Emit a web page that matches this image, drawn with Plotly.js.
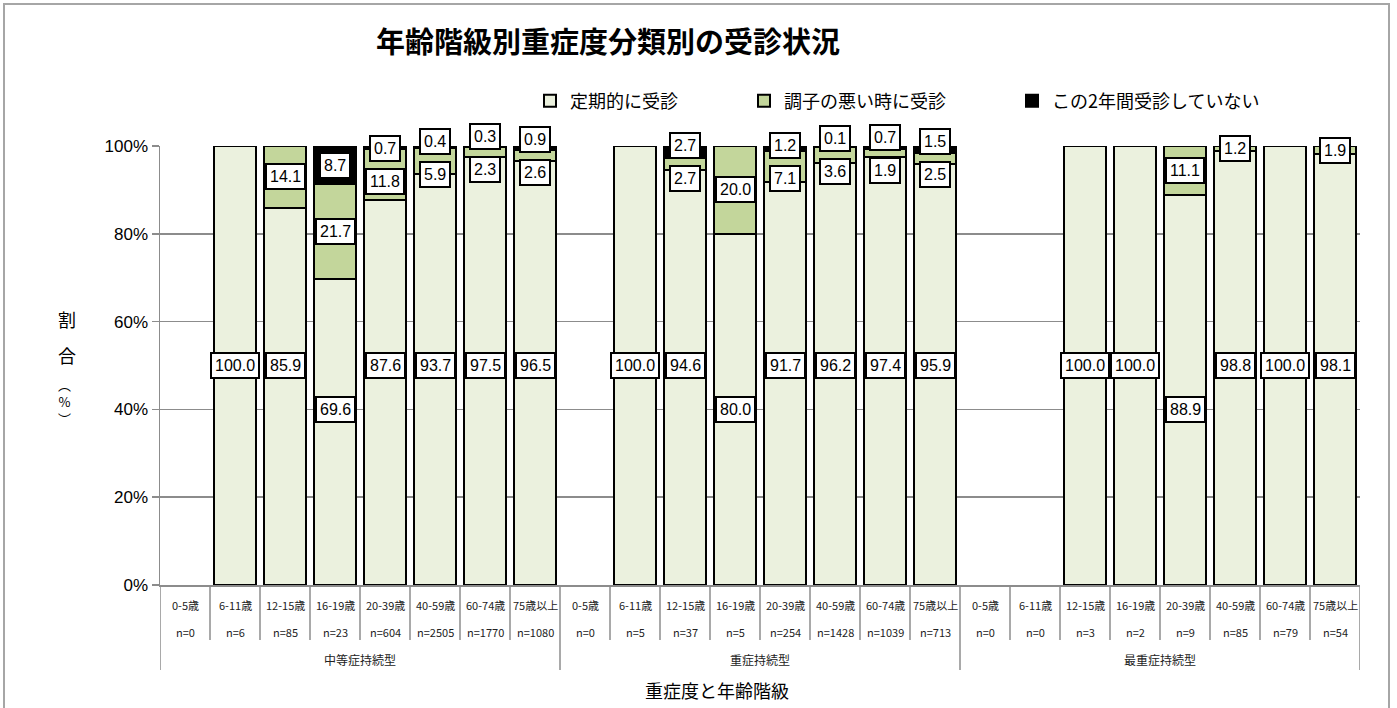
<!DOCTYPE html>
<html>
<head>
<meta charset="utf-8">
<script src="https://cdn.plot.ly/plotly-3.0.1.min.js"></script>
<style>
  html, body { margin: 0; padding: 0; background: #fff; }
  #chart { position: absolute; left: 0; top: 0; width: 1397px; height: 708px; }
  #frame { position: absolute; left: 3px; top: 3px; width: 1383px; height: 720px;
           border: 2px solid #a6a6a6; pointer-events: none; }
</style>
</head>
<body>
<div id="chart"></div>
<div id="frame"></div>
<script>
// ---------------- data ----------------
const GROUPS = ['中等症持続型', '重症持続型', '最重症持続型'];
const AGES = ['0-5歳', '6-11歳', '12-15歳', '16-19歳', '20-39歳', '40-59歳', '60-74歳', '75歳以上'];
const SERIES_NAMES = ['定期的に受診', '調子の悪い時に受診', 'この2年間受診していない'];
const Y_TICK_VALUES = [0, 20, 40, 60, 80, 100];
const Y_TICK_LABELS = ['0%', '20%', '40%', '60%', '80%', '100%'];

const N_MODERATE = [0, 6, 85, 23, 604, 2505, 1770, 1080];
const N_SEVERE   = [0, 5, 37, 5, 254, 1428, 1039, 713];
const N_MOST     = [0, 0, 3, 2, 9, 85, 79, 54];

// 定期的に受診 (%)
const REGULAR_MODERATE = [null, 100.0, 85.9, 69.6, 87.6, 93.7, 97.5, 96.5];
const REGULAR_SEVERE   = [null, 100.0, 94.6, 80.0, 91.7, 96.2, 97.4, 95.9];
const REGULAR_MOST     = [null, null, 100.0, 100.0, 88.9, 98.8, 100.0, 98.1];
// 調子の悪い時に受診 (%)
const WHENBAD_MODERATE = [null, null, 14.1, 21.7, 11.8, 5.9, 2.3, 2.6];
const WHENBAD_SEVERE   = [null, null, 2.7, 20.0, 7.1, 3.6, 1.9, 2.5];
const WHENBAD_MOST     = [null, null, null, null, 11.1, 1.2, null, 1.9];
// この2年間受診していない (%)
const NONE_MODERATE = [null, null, null, 8.7, 0.7, 0.4, 0.3, 0.9];
const NONE_SEVERE   = [null, null, 2.7, null, 1.2, 0.1, 0.7, 1.5];
const NONE_MOST     = [null, null, null, null, null, null, null, null];

// ---------------- label placement (layout setting, % level of the 定期 labels) ----------------
const REGULAR_LABEL_LEVEL = [
  null, 50, 50, 40, 50, 50, 50, 50,
  null, 50, 50, 40, 50, 50, 50, 50,
  null, null, 50, 50, 40, 50, 50, 50
];

// ---------------- build ----------------
const regular = [].concat(REGULAR_MODERATE, REGULAR_SEVERE, REGULAR_MOST);
const whenBad = [].concat(WHENBAD_MODERATE, WHENBAD_SEVERE, WHENBAD_MOST);
const none    = [].concat(NONE_MODERATE, NONE_SEVERE, NONE_MOST);
const nCounts = [].concat(N_MODERATE, N_SEVERE, N_MOST);
const ageLabels = [].concat(AGES, AGES, AGES);
const xIdx = ageLabels.map((_, i) => i);

const COL_REG = '#ebf1de';
const COL_BAD = '#c3d69b';
const COL_NONE = '#000000';
const EDGE = { color: '#000000', width: 2 };
const NUM_FONT = 'Liberation Sans Narrow, Liberation Sans, Arial, sans-serif';
const JP_FONT = 'Noto Sans CJK JP, sans-serif';

function barTrace(vals, name, color, legendId) {
  return {
    type: 'bar', x: xIdx, y: vals, name: name,
    marker: { color: color, line: EDGE },
    legend: legendId, hoverinfo: 'skip', cliponaxis: false
  };
}
const traces = [
  barTrace(regular, SERIES_NAMES[0], COL_REG, 'legend'),
  barTrace(whenBad, SERIES_NAMES[1], COL_BAD, 'legend2'),
  barTrace(none, SERIES_NAMES[2], COL_NONE, 'legend3')
];

const M = { l: 160, r: 37, t: 146, b: 123 };
const W = 1397, H = 708;
const plotH = H - M.t - M.b;
const PX = plotH / 100;

const annotations = [];
function dataLabel(i, yVal, v, shift) {
  annotations.push({
    x: i, y: yVal, xref: 'x', yref: 'y', text: v.toFixed(1), showarrow: false,
    yshift: shift || 0, bgcolor: '#ffffff', bordercolor: '#000000', borderwidth: 2,
    borderpad: 3, font: { family: NUM_FONT, size: 16, color: '#000' }
  });
}
xIdx.forEach(i => {
  const r = regular[i] || 0, b = whenBad[i] || 0, n = none[i] || 0;
  if (regular[i] != null) dataLabel(i, REGULAR_LABEL_LEVEL[i] != null ? REGULAR_LABEL_LEVEL[i] : r / 2, regular[i], 0);
  const bc = r + b / 2, nc = r + b + n / 2;
  if (whenBad[i] != null && none[i] != null && (nc - bc) * PX < 33) {
    const mid = (bc + nc) / 2 * PX - 4;
    dataLabel(i, bc, b, (mid - 16.5) - bc * PX);
    dataLabel(i, nc, n, (mid + 16.5) - nc * PX);
  } else {
    if (whenBad[i] != null) dataLabel(i, bc, b, 0);
    if (none[i] != null) dataLabel(i, nc, n, 0);
  }
});

// category labels under the axis
xIdx.forEach(i => {
  annotations.push({ x: i, y: 0, xref: 'x', yref: 'paper', yanchor: 'middle', yshift: -20,
    text: ageLabels[i], showarrow: false, font: { family: JP_FONT, size: 11, color: '#222' } });
  annotations.push({ x: i, y: 0, xref: 'x', yref: 'paper', yanchor: 'middle', yshift: -47,
    text: 'n=' + nCounts[i], showarrow: false, font: { family: JP_FONT, size: 11, color: '#222' } });
});
GROUPS.forEach((g, gi) => {
  annotations.push({ x: gi * AGES.length + (AGES.length - 1) / 2, y: 0, xref: 'x', yref: 'paper',
    yanchor: 'middle', yshift: -74, text: g, showarrow: false,
    font: { family: JP_FONT, size: 12, color: '#222' } });
});
// x axis title
annotations.push({ x: (717 - M.l) / (W - M.l - M.r), y: 0, xref: 'paper', yref: 'paper', yanchor: 'middle',
  yshift: -105, text: '重症度と年齢階級', showarrow: false, font: { family: JP_FONT, size: 18, color: '#000' } });
// y axis title (vertical writing)
const yTitleX = (57 - M.l) / (W - M.l - M.r);
annotations.push({ x: yTitleX, y: (H - M.b - 319) / plotH, xref: 'paper', yref: 'paper', yanchor: 'middle',
  text: '割', showarrow: false, borderpad: 0, font: { family: JP_FONT, size: 18, color: '#000' } });
annotations.push({ x: yTitleX, y: (H - M.b - 355) / plotH, xref: 'paper', yref: 'paper', yanchor: 'middle',
  text: '合', showarrow: false, borderpad: 0, font: { family: JP_FONT, size: 18, color: '#000' } });
annotations.push({ x: yTitleX, y: (H - M.b - 401) / plotH, xref: 'paper', yref: 'paper', yanchor: 'middle',
  text: '︵<br>%<br>︶', showarrow: false, borderpad: 0, font: { family: JP_FONT, size: 13, color: '#000' } });

// separators below the category axis
const shapes = [];
const nCat = xIdx.length;
for (let k = 0; k <= nCat; k++) {
  const isGroup = k % AGES.length === 0;
  shapes.push({ type: 'line', xref: 'x', yref: 'paper', x0: k - 0.5, x1: k - 0.5,
    y0: 0, y1: -(isGroup ? 85 : 55) / plotH, line: { color: '#8c8c8c', width: 1.5 } });
}

function legendAt(px) {
  return { x: px / W, xref: 'container', xanchor: 'left', y: 1 - 101 / H, yref: 'container',
    yanchor: 'middle', orientation: 'h', bgcolor: 'rgba(0,0,0,0)', itemwidth: 30,
    font: { family: JP_FONT, size: 18, color: '#000' } };
}

const layout = {
  width: W, height: H, margin: M,
  paper_bgcolor: '#ffffff', plot_bgcolor: '#ffffff',
  barmode: 'stack', bargap: 0.16,
  title: { text: '年齢階級別重症度分類別の受診状況', x: 608 / W, xref: 'container', xanchor: 'center',
    y: 1 - 43 / H, yref: 'container', yanchor: 'middle',
    font: { family: JP_FONT, size: 29, weight: 700, color: '#000' } },
  xaxis: { range: [-0.5, nCat - 0.5], showticklabels: false, ticks: '', showgrid: false,
    zeroline: false, showline: true, linecolor: '#8c8c8c', linewidth: 1.5, fixedrange: true },
  yaxis: { range: [0, 100], tickmode: 'array', tickvals: Y_TICK_VALUES, ticktext: Y_TICK_LABELS,
    showgrid: true, gridcolor: '#8c8c8c', gridwidth: 1.5, zeroline: false,
    showline: true, linecolor: '#8c8c8c', linewidth: 1.5, ticks: 'outside', ticklen: 7,
    tickcolor: '#8c8c8c', tickwidth: 1.5,
    tickfont: { family: NUM_FONT, size: 17, color: '#000' }, fixedrange: true },
  legend: legendAt(530),
  legend2: legendAt(744),
  legend3: legendAt(1012),
  annotations: annotations,
  shapes: shapes,
  showlegend: true
};

Plotly.newPlot('chart', traces, layout, { staticPlot: true, displayModeBar: false });
</script>
</body>
</html>
